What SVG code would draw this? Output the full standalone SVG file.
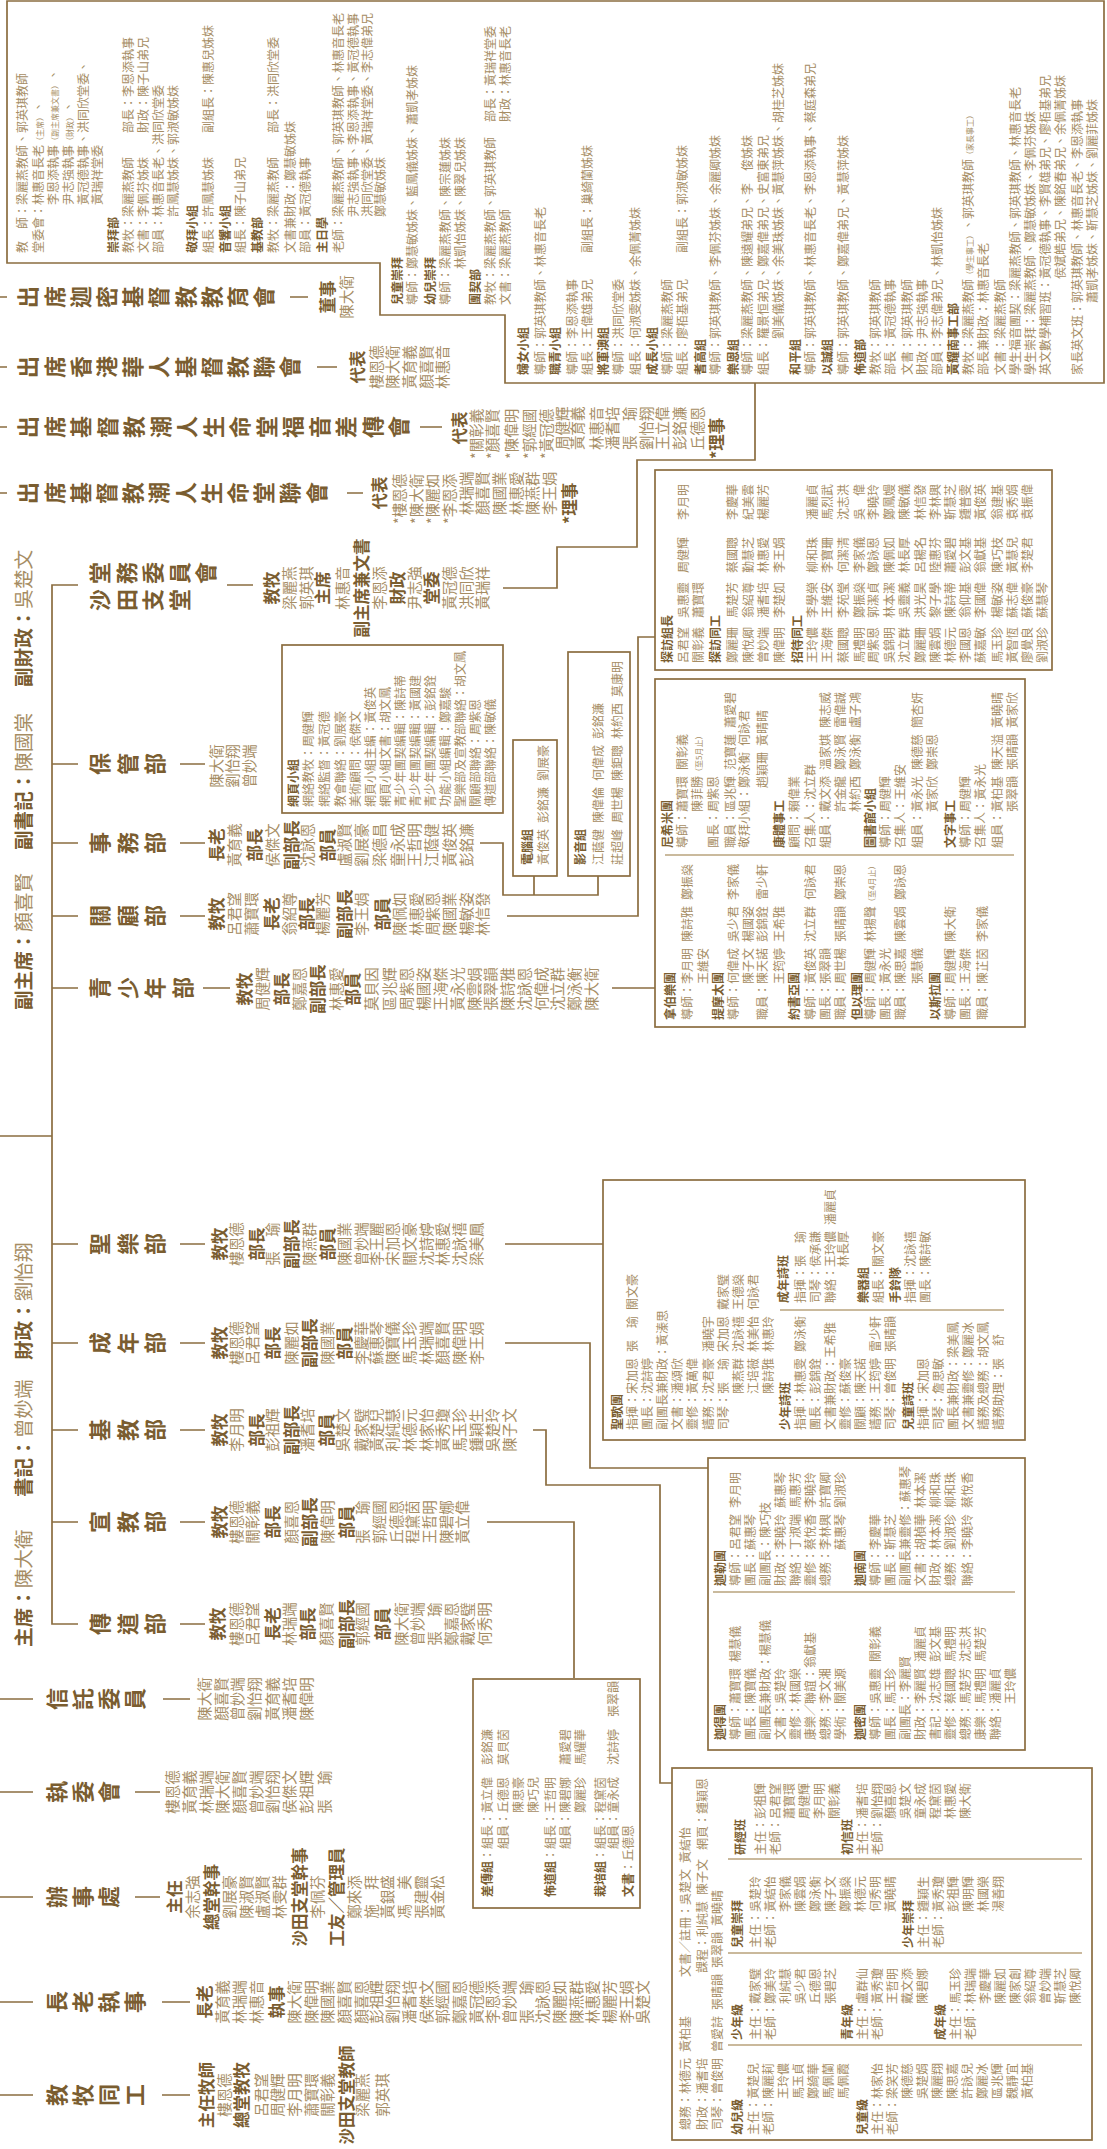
<svg xmlns="http://www.w3.org/2000/svg" width="1107" height="2149" viewBox="0 0 1107 2149">
<style>
text{font-family:"Noto Sans CJK TC","Noto Sans CJK SC",sans-serif}
.ln{fill:none;stroke:#8b6d40;stroke-width:1.7}
.dv{fill:none;stroke:#b9a37c;stroke-width:1.4}
.v{writing-mode:vertical-rl;text-orientation:upright;font-size:22px;font-weight:700;fill:#7a5d30}
.hl{font-size:19.6px;font-weight:700;fill:#7a5d30}
.hn{font-size:19.6px;font-weight:400;fill:#a68d64}
.r{font-size:16.5px;font-weight:700;fill:#7a5d30;text-anchor:middle}
.n{font-size:14.5px;fill:#a68d64;text-anchor:middle}
.rs{font-size:16.5px;font-weight:700;fill:#7a5d30}
.ns{font-size:14.5px;fill:#a68d64}
.t{font-size:12px;fill:#a68d64}
.b{font-size:12px;font-weight:700;fill:#7a5d30}
.s{font-size:8px}
</style>
<rect width="1107" height="2149" fill="#fff"/>
<g transform="translate(0,2149) rotate(-90)">

<g id="headline">
<text x="502" y="31"><tspan class="hl">主席：</tspan><tspan class="hn">陳大衛</tspan></text>
<text x="652" y="31"><tspan class="hl">書記：</tspan><tspan class="hn">曾妙端</tspan></text>
<text x="789" y="31"><tspan class="hl">財政：</tspan><tspan class="hn">劉怡翔</tspan></text>
<text x="1139" y="31"><tspan class="hl">副主席：</tspan><tspan class="hn">顏喜賢</tspan></text>
<text x="1299" y="31"><tspan class="hl">副書記：</tspan><tspan class="hn">陳國棠</tspan></text>
<text x="1462" y="31"><tspan class="hl">副財政：</tspan><tspan class="hn">吳楚文</tspan></text>
</g>

<g id="connectors" class="ln">
<path d="M1564,78V52H525V78"/>
<path d="M1385,52V78M1306,52V78M1233,52V78M1161,52V78M905,52V78M806,52V78M719,52V78M627,52V78M1013,0V52"/>
<path d="M1564,227V253M1385,180V205M1306,180V205M1233,180V205M1161,203V230M905,180V205M806,180V205M719,180V205M627,180V205M525,180V205"/>
<path d="M1852,0V7M1852,290V308M1782,0V7M1782,317V337M1722,0V7M1722,420V442M1656,0V7M1656,347V363"/>
<path d="M450,0V33M450,163V190M357,0V33M357,135V160M252,0V33M252,135V160M147,0V33M147,162V190M54,0V33M54,162V190"/>
<path d="M1561,503V557H1602V637H1689V755H1766"/>
<path d="M1306,480V503H1254V598H1273M1254,534H1273"/>
<path d="M1233,507V638H1512V655"/>
<path d="M1161,612V655"/>
<path d="M905,505V603"/>
<path d="M806,505V590H681V708"/>
<path d="M719,533V546H664V660H366V672"/>
<path d="M627,487V574H471"/>
</g>

<g id="n-chuxi1">
<text class="v" x="1852" y="17" style="letter-spacing:4.2px">出席迦密基督教教育會</text>
<text class="r" x="1852" y="334">董事</text>
<text class="n" x="1852" y="352">陳大衛</text>
</g>
<g id="n-chuxi2">
<text class="v" x="1782" y="17" style="letter-spacing:4.2px">出席香港華人基督教聯會</text>
<text class="r" x="1782" y="364">代表</text>
<text class="n" x="1782" y="382">樓恩德</text>
<text class="n" x="1782" y="398">陳大衛</text>
<text class="n" x="1782" y="415">黃育義</text>
<text class="n" x="1782" y="432">顏喜賢</text>
<text class="n" x="1782" y="448">林惠音</text>
</g>
<g id="n-chuxi3">
<text class="v" x="1722" y="17" style="letter-spacing:4.5px">出席基督教潮人生命堂福音差傳會</text>
<text class="r" x="1721" y="466">代表</text>
<text class="ns" x="1690" y="482">*關彰義</text>
<text class="ns" x="1690" y="498">*顏喜賢</text>
<text class="ns" x="1690" y="517">*陳偉明</text>
<text class="ns" x="1690" y="535">*郭經國</text>
<text class="ns" x="1690" y="552">*黃冠德</text>
<text class="ns" x="1699" y="568">周健輝</text>
<text class="ns" x="1699" y="583">黃育義</text>
<text class="ns" x="1699" y="602">林惠音</text>
<text class="ns" x="1699" y="618">潘耆培</text>
<text class="ns" x="1699" y="635">張　瑜</text>
<text class="ns" x="1699" y="652">劉怡翔</text>
<text class="ns" x="1699" y="668">王立偉</text>
<text class="ns" x="1699" y="685">彭銘濂</text>
<text class="ns" x="1699" y="703">丘德恩</text>
<text class="rs" x="1690" y="723">*理事</text>
</g>
<g id="n-chuxi4">
<text class="v" x="1656" y="17" style="letter-spacing:4.2px">出席基督教潮人生命堂聯會</text>
<text class="r" x="1656" y="386">代表</text>
<text class="ns" x="1625" y="405">*樓恩德</text>
<text class="ns" x="1625" y="422">*陳大衛</text>
<text class="ns" x="1625" y="438">*陳麗如</text>
<text class="ns" x="1625" y="455">*李恩添</text>
<text class="ns" x="1634" y="472">林瑞端</text>
<text class="ns" x="1634" y="488">顏喜賢</text>
<text class="ns" x="1634" y="505">陳國業</text>
<text class="ns" x="1634" y="522">林惠愛</text>
<text class="ns" x="1634" y="538">陳燕群</text>
<text class="ns" x="1634" y="555">李王娟</text>
<text class="rs" x="1625" y="576">*理事</text>
</g>

<g id="n-shatin-box">
<path class="ln" d="M1886,7H2148V1104H1766V505H1834V380H1886Z"/>
<text class="t" x="1896" y="26.5">教　師：梁麗燕教師、郭英琪教師</text>
<text class="t" x="1896" y="42.5">堂委會：林惠音長老<tspan class="s">（主席）</tspan>、</text>
<text class="t" x="1944" y="57.5">李恩添執事<tspan class="s">（副主席兼文書）</tspan>、</text>
<text class="t" x="1944" y="72.5">尹志強執事<tspan class="s">（財政）</tspan>、</text>
<text class="t" x="1944" y="87.5">黃冠德執事、洪同欣堂委、</text>
<text class="t" x="1944" y="101.5">黃瑞祥堂委</text>
<text class="b" x="1896" y="117.5">崇拜部</text>
<text class="t" x="1896" y="132.5">教牧：梁麗燕教師</text><text class="t" x="2016" y="132.5">部長：李恩添執事</text>
<text class="t" x="1896" y="147.5">文書：李佩芬姊妹</text><text class="t" x="2016" y="147.5">財政：陳子山弟兄</text>
<text class="t" x="1896" y="162.5">部員：林惠音長老、洪同欣堂委</text>
<text class="t" x="1932" y="177.5">許鳳慧姊妹、郭淑敏姊妹</text>
<text class="b" x="1896" y="196.5">敬拜小組</text>
<text class="t" x="1896" y="212.5">組長：許鳳慧姊妹</text><text class="t" x="2016" y="212.5">副組長：陳惠兒姊妹</text>
<text class="b" x="1896" y="229.5">音響小組</text>
<text class="t" x="1896" y="244.5">組長：陳子山弟兄</text>
<text class="b" x="1896" y="261.5">基教部</text>
<text class="t" x="1896" y="277.5">教牧：梁麗燕教師</text><text class="t" x="2016" y="277.5">部長：洪同欣堂委</text>
<text class="t" x="1896" y="294.5">文書兼財政：鄭慧敏姊妹</text>
<text class="t" x="1896" y="309.5">部員：黃冠德執事</text>
<text class="b" x="1896" y="326.5">主日學</text>
<text class="t" x="1896" y="342.5">老師：梁麗燕教師、郭英琪教師、林惠音長老</text>
<text class="t" x="1932" y="357.5">尹志強執事、李恩添執事、黃冠德執事</text>
<text class="t" x="1932" y="371.5">洪同欣堂委、黃瑞祥堂委、李志偉弟兄</text>
<text class="t" x="1932" y="385">鄭慧敏姊妹</text>
<text class="b" x="1844" y="401.5">兒童崇拜</text>
<text class="t" x="1844" y="416.5">導師：鄭慧敏姊妹、藍鳳儀姊妹、蕭凱孝姊妹</text>
<text class="b" x="1844" y="434.5">幼兒崇拜</text>
<text class="t" x="1844" y="449.5">導師：梁麗燕教師、陳宗蓮姊妹</text>
<text class="t" x="1880" y="464.5">林凱怡姊妹、陳翠兒姊妹</text>
<text class="b" x="1844" y="479.5">團契部</text>
<text class="t" x="1844" y="494.5">教牧：梁麗燕教師、郭英琪教師</text><text class="t" x="2027" y="494.5">部長：黃瑞祥堂委</text>
<text class="t" x="1844" y="509.5">文書：梁麗燕教師</text><text class="t" x="2027" y="509.5">財政：林惠音長老</text>
<text class="b" x="1774" y="527.5">婦女小組</text>
<text class="t" x="1774" y="544.5">導師：郭英琪教師、林惠音長老</text>
<text class="b" x="1774" y="559.5">職青小組</text>
<text class="t" x="1774" y="576.5">導師：李恩添執事</text>
<text class="t" x="1774" y="591.5">組長：王偉雄弟兄</text><text class="t" x="1896" y="591.5">副組長：巢綺蘭姊妹</text>
<text class="b" x="1774" y="607.5">將軍澳組</text>
<text class="t" x="1774" y="622.5">導師：洪同欣堂委</text>
<text class="t" x="1774" y="639.5">組長：何淑雯姊妹、余佩菁姊妹</text>
<text class="b" x="1774" y="656.5">成長小組</text>
<text class="t" x="1774" y="671.5">導師：梁麗燕教師</text>
<text class="t" x="1774" y="686.5">組長：廖栢基弟兄</text><text class="t" x="1896" y="686.5">副組長：郭淑敏姊妹</text>
<text class="b" x="1774" y="704.5">耆高組</text>
<text class="t" x="1774" y="719.5">導師：郭英琪教師、李佩芬姊妹、余麗卿姊妹</text>
<text class="b" x="1774" y="737.5">樂恩組</text>
<text class="t" x="1774" y="751.5">導師：梁麗燕教師、陳遠耀弟兄、李　俊姊妹</text>
<text class="t" x="1774" y="767.5">組長：羅景恒弟兄、鄭嘉偉弟兄、史富東弟兄</text>
<text class="t" x="1810" y="782.5">劉美儀姊妹、余美珠姊妹、黃慧萍姊妹、胡桂芝姊妹</text>
<text class="b" x="1774" y="799.5">和平組</text>
<text class="t" x="1774" y="814.5">導師：郭英琪教師、林惠音長老、李恩添執事、蔡庭森弟兄</text>
<text class="b" x="1774" y="831.5">以誠組</text>
<text class="t" x="1774" y="847.5">導師：郭英琪教師、鄭嘉偉弟兄、黃慧萍姊妹</text>
<text class="b" x="1774" y="864.5">佈道部</text>
<text class="t" x="1774" y="879.5">教牧：郭英琪教師</text>
<text class="t" x="1774" y="894.5">部長：黃冠德執事</text>
<text class="t" x="1774" y="911.5">文書：郭英琪教師</text>
<text class="t" x="1774" y="926.5">財政：尹志強執事</text>
<text class="t" x="1774" y="941.5">部員：李志偉弟兄、林凱怡姊妹</text>
<text class="b" x="1774" y="957.5">黃耀南事工部</text>
<text class="t" x="1774" y="972.5">教牧：梁麗燕教師<tspan class="s">（學生事工）</tspan>、郭英琪教師<tspan class="s">（家長事工）</tspan></text>
<text class="t" x="1774" y="987.5">部長兼財政：林惠音長老</text>
<text class="t" x="1774" y="1004.5">文書：梁麗燕教師</text>
<text class="t" x="1774" y="1019.5">學生福音團契：梁麗燕教師、郭英琪教師、林惠音長老</text>
<text class="t" x="1774" y="1034.5">學生崇拜：梁麗燕教師、鄭慧敏姊妹、李佩芬姊妹</text>
<text class="t" x="1774" y="1049.5">英文數學補習班：黃冠德執事、李賢雄弟兄、廖栢基弟兄</text>
<text class="t" x="1870" y="1064.5">侯斌皓弟兄、陳銘春弟兄、余佩菁姊妹</text>
<text class="t" x="1774" y="1081.5">家長英文班：郭英琪教師、林惠音長老、李恩添執事</text>
<text class="t" x="1846" y="1096.5">蕭凱孝姊妹、靳慧芝姊妹、劉麗菲姊妹</text>
</g>

<g id="n-shatin">
<text class="v" x="1549" y="89" style="letter-spacing:4.5px">沙田支堂</text>
<text class="v" x="1576" y="89" style="letter-spacing:4.5px">堂務委員會</text>
<text class="r" x="1561" y="278">教牧</text>
<text class="n" x="1561" y="295">梁麗燕</text>
<text class="n" x="1561" y="312">郭英琪</text>
<text class="r" x="1561" y="329">主席</text>
<text class="n" x="1561" y="348">林惠音</text>
<text class="r" x="1561" y="368">副主席兼文書</text>
<text class="n" x="1561" y="385">李恩添</text>
<text class="r" x="1561" y="404">財政</text>
<text class="n" x="1561" y="420">尹志強</text>
<text class="r" x="1561" y="438">堂委</text>
<text class="n" x="1561" y="455">黃冠德</text>
<text class="n" x="1561" y="472">洪同欣</text>
<text class="n" x="1561" y="488">黃瑞祥</text>
</g>

<g id="n-baoguan">
<text class="v" x="1385" y="89" style="letter-spacing:5.5px">保管部</text>
<text class="n" x="1383" y="222">陳大衛</text>
<text class="n" x="1383" y="238">劉怡翔</text>
<text class="n" x="1383" y="255">曾妙端</text>
</g>

<g id="n-web">
<rect class="ln" x="1336" y="282" width="168" height="221"/>
<text class="b" x="1342" y="297.5">網頁小組</text>
<text class="t" x="1342" y="312.5">網絡教牧：周健輝</text>
<text class="t" x="1342" y="328.5">網絡監督：黃冠德</text>
<text class="t" x="1342" y="344.5">教會聯絡：劉展豪</text>
<text class="t" x="1342" y="359.5">美術顧問：侯傑文</text>
<text class="t" x="1342" y="374.5">網頁小組主編：黃俊英</text>
<text class="t" x="1342" y="389.5">網頁小組文書：胡文鳳</text>
<text class="t" x="1342" y="404.5">青少年團契編輯：陳詩蒂</text>
<text class="t" x="1342" y="419.5">青少年團契編輯：黃國建</text>
<text class="t" x="1342" y="434.5">青少年團契編輯：彭銘銓</text>
<text class="t" x="1342" y="449.5">功能小組編輯：鄭嘉駿</text>
<text class="t" x="1342" y="464.5">聖樂部及宣教部聯絡：胡文鳳</text>
<text class="t" x="1342" y="479.5">關顧部聯絡：周紫恩</text>
<text class="t" x="1342" y="494.5">傳道部聯絡：陳敏儀</text>
</g>

<g id="n-shiwu">
<text class="v" x="1306" y="89" style="letter-spacing:5.5px">事務部</text>
<text class="r" x="1304" y="223">長老</text>
<text class="n" x="1304" y="240">黃育義</text>
<text class="r" x="1304" y="261">部長</text>
<text class="n" x="1304" y="278">侯傑文</text>
<text class="r" x="1304" y="298">副部長</text>
<text class="n" x="1304" y="313">沈詠恩</text>
<text class="r" x="1304" y="334">部員</text>
<text class="n" x="1304" y="350">盧淑賢</text>
<text class="n" x="1304" y="367">劉展豪</text>
<text class="n" x="1304" y="385">梁德昌</text>
<text class="n" x="1304" y="403">童永成</text>
<text class="n" x="1304" y="420">王哲明</text>
<text class="n" x="1304" y="437">江蔭健</text>
<text class="n" x="1304" y="455">黃俊英</text>
<text class="n" x="1304" y="472">彭銘濂</text>
</g>
<g id="n-computer">
<rect class="ln" x="1273" y="513" width="136" height="44"/>
<text class="b" x="1284" y="531.5">電腦組</text>
<text class="t" x="1284" y="547.5">黃俊英&#x2002;彭銘濂&#x2002;劉展豪</text>
</g>
<g id="n-av">
<rect class="ln" x="1273" y="568" width="224" height="62"/>
<text class="b" x="1284" y="584.5">影音組</text>
<text class="t" x="1284" y="602.5">江蔭健&#x2002;陳偉倫&#x2002;何偉成&#x2002;彭銘濂</text>
<text class="t" x="1284" y="621.5">莊超峰&#x2002;周世楊&#x2002;陳鉅聰&#x2002;林約西&#x2002;莫康明</text>
</g>

<g id="n-guangu">
<text class="v" x="1233" y="89" style="letter-spacing:5.5px">關顧部</text>
<text class="r" x="1235" y="223">教牧</text>
<text class="n" x="1235" y="240">呂君望</text>
<text class="n" x="1235" y="257">蕭寶環</text>
<text class="r" x="1235" y="278">長老</text>
<text class="n" x="1235" y="295">翁紹尊</text>
<text class="r" x="1235" y="313">部長</text>
<text class="n" x="1235" y="328">楊麗芳</text>
<text class="r" x="1235" y="351">副部長</text>
<text class="n" x="1235" y="367">李王娟</text>
<text class="r" x="1235" y="389">部員</text>
<text class="n" x="1235" y="405">陳佩如</text>
<text class="n" x="1235" y="422">林惠愛</text>
<text class="n" x="1235" y="438">周紫恩</text>
<text class="n" x="1235" y="455">陳國業</text>
<text class="n" x="1235" y="472">楊敏姿</text>
<text class="n" x="1235" y="488">林信發</text>
</g>
<g id="n-visit">
<rect class="ln" x="1479" y="655" width="200" height="397"/>
<text class="b" x="1486" y="671.5">探訪組長</text>
<text class="t" y="687.5"><tspan x="1486">呂君望</tspan> <tspan x="1531">吳惠靈</tspan> <tspan x="1576">周健輝</tspan> <tspan x="1629">李月明</tspan></text>
<text class="t" y="702.5"><tspan x="1486">關彰義</tspan> <tspan x="1531">蕭寶環</tspan></text>
<text class="b" x="1486" y="719.5">探訪同工</text>
<text class="t" y="736.5"><tspan x="1486">鄭麗珊</tspan> <tspan x="1531">馬楚芳</tspan> <tspan x="1576">蔡國聰</tspan> <tspan x="1629">李慶華</tspan></text>
<text class="t" y="752.5"><tspan x="1486">陳悅卿</tspan> <tspan x="1531">翁紹尊</tspan> <tspan x="1576">勤慧芝</tspan> <tspan x="1629">紀美雲</tspan></text>
<text class="t" y="767.5"><tspan x="1486">曾妙端</tspan> <tspan x="1531">潘耆培</tspan> <tspan x="1576">林惠愛</tspan> <tspan x="1629">楊麗芳</tspan></text>
<text class="t" y="783.5"><tspan x="1486">陳偉明</tspan> <tspan x="1531">李楚如</tspan> <tspan x="1576">李王娟</tspan></text>
<text class="b" x="1486" y="801.5">招待同工</text>
<text class="t" y="816.5"><tspan x="1486">王玲儂</tspan> <tspan x="1531">李學榮</tspan> <tspan x="1576">柳和珠</tspan> <tspan x="1629">潘麗貞</tspan></text>
<text class="t" y="831.5"><tspan x="1486">王海傑</tspan> <tspan x="1531">王維安</tspan> <tspan x="1576">李寶珊</tspan> <tspan x="1629">馬烈武</tspan></text>
<text class="t" y="847.5"><tspan x="1486">蔡國聰</tspan> <tspan x="1531">李苑瑩</tspan> <tspan x="1576">何潔清</tspan> <tspan x="1629">沈志洪</tspan></text>
<text class="t" y="863.5"><tspan x="1486">馬禮明</tspan> <tspan x="1531">鄭振燊</tspan> <tspan x="1576">李家儀</tspan> <tspan x="1629">吳　偉</tspan></text>
<text class="t" y="877.5"><tspan x="1486">周紫恩</tspan> <tspan x="1531">郭潔貞</tspan> <tspan x="1576">鄭詠恩</tspan> <tspan x="1629">李曉玲</tspan></text>
<text class="t" y="893.5"><tspan x="1486">吳錦明</tspan> <tspan x="1531">林本潔</tspan> <tspan x="1576">陳佩如</tspan> <tspan x="1629">鄭鳳嫚</tspan></text>
<text class="t" y="908.5"><tspan x="1486">沈立群</tspan> <tspan x="1531">吳靈義</tspan> <tspan x="1576">林長厚</tspan> <tspan x="1629">陳敏儀</tspan></text>
<text class="t" y="924.5"><tspan x="1486">鄭麗珊</tspan> <tspan x="1531">洪光昊</tspan> <tspan x="1576">呂楊名</tspan> <tspan x="1629">林信發</tspan></text>
<text class="t" y="939.5"><tspan x="1486">陳雲娟</tspan> <tspan x="1531">黎子學</tspan> <tspan x="1576">陸惠芬</tspan> <tspan x="1629">李林興</tspan></text>
<text class="t" y="954.5"><tspan x="1486">林德元</tspan> <tspan x="1531">陳詩蒂</tspan> <tspan x="1576">蕭愛碧</tspan> <tspan x="1629">靳慧芝</tspan></text>
<text class="t" y="969.5"><tspan x="1486">李國恩</tspan> <tspan x="1531">翁仰基</tspan> <tspan x="1576">彭文基</tspan> <tspan x="1629">鍾普雯</tspan></text>
<text class="t" y="984.5"><tspan x="1486">蘇嘉敏</tspan> <tspan x="1531">李國偉</tspan> <tspan x="1576">翁獻基</tspan> <tspan x="1629">黃俊英</tspan></text>
<text class="t" y="1001.5"><tspan x="1486">馬玉珍</tspan> <tspan x="1531">楊敏姿</tspan> <tspan x="1576">陳巧枝</tspan> <tspan x="1629">翁建基</tspan></text>
<text class="t" y="1016.5"><tspan x="1486">黃智恆</tspan> <tspan x="1531">蘇志偉</tspan> <tspan x="1576">黃慧兒</tspan> <tspan x="1629">袁秀娟</tspan></text>
<text class="t" y="1031.5"><tspan x="1486">廖覺良</tspan> <tspan x="1531">蘇俊豪</tspan> <tspan x="1576">李楚君</tspan> <tspan x="1629">袁振偉</tspan></text>
<text class="t" y="1046.5"><tspan x="1486">劉淑珍</tspan> <tspan x="1531">蘇慧琴</tspan></text>
</g>

<g id="n-youth">
<text class="v" x="1161" y="89" style="letter-spacing:5.5px">青少年部</text>
<text class="r" x="1160" y="251">教牧</text>
<text class="n" x="1160" y="268">周健輝</text>
<text class="r" x="1160" y="288">部長</text>
<text class="n" x="1160" y="305">鄭嘉恩</text>
<text class="r" x="1160" y="324">副部長</text>
<text class="n" x="1160" y="342">林惠愛</text>
<text class="r" x="1160" y="359">部員</text>
<text class="n" x="1160" y="377">莫貝因</text>
<text class="n" x="1160" y="395">區兆輝</text>
<text class="n" x="1160" y="412">周紫恩</text>
<text class="n" x="1160" y="429">楊國姿</text>
<text class="n" x="1160" y="446">王海傑</text>
<text class="n" x="1160" y="463">黃永光</text>
<text class="n" x="1160" y="480">陳雲娟</text>
<text class="n" x="1160" y="496">張翠韻</text>
<text class="n" x="1160" y="513">陳詩雅</text>
<text class="n" x="1160" y="530">沈詠恩</text>
<text class="n" x="1160" y="547">何偉成</text>
<text class="n" x="1160" y="563">沈立群</text>
<text class="n" x="1160" y="580">鄭泳衡</text>
<text class="n" x="1160" y="597">陳大衛</text>
</g>
<g id="n-youth-box">
<rect class="ln" x="1122" y="655" width="348" height="370"/>
<path class="dv" d="M1294,665V1014"/>
<text class="b" x="1129" y="674.5">拿伯樂團</text>
<text class="t" x="1129" y="691.5">導師：李月明&#x2002;陳詩雅&#x2002;鄭振燊</text>
<text class="t" x="1165" y="707.5">王維安</text>
<text class="b" x="1129" y="722.5">提摩太團</text>
<text class="t" x="1129" y="737.5">導師：何偉成&#x2002;吳少君&#x2002;李家儀</text>
<text class="t" x="1165" y="752.5">陳子文&#x2002;楊國姿</text>
<text class="t" x="1129" y="766.5">職員：陳天諾&#x2002;彭錦銓&#x2002;雷少軒</text>
<text class="t" x="1165" y="783.5">王筠婷&#x2002;王希雅</text>
<text class="b" x="1129" y="798.5">約書亞團</text>
<text class="t" x="1129" y="814.5">導師：黃俊英&#x2002;沈立群&#x2002;何詠君</text>
<text class="t" x="1129" y="829.5">團長：張翠韻</text>
<text class="t" x="1129" y="844.5">職員：周世楊&#x2002;張晴韻&#x2002;鄭崇恩</text>
<text class="b" x="1129" y="861.5">但以理團</text>
<text class="t" x="1129" y="874.5">導師：周健輝&#x2002;林揚聲<tspan class="s">（至4月止）</tspan></text>
<text class="t" x="1129" y="889.5">團長：黃永光</text>
<text class="t" x="1129" y="904.5">職員：陳思嘉&#x2002;陳雲娟&#x2002;鄭詠恩</text>
<text class="t" x="1165" y="921.5">張慧儀</text>
<text class="b" x="1129" y="939.5">以斯拉團</text>
<text class="t" x="1129" y="954.5">導師：周健輝&#x2002;陳大衛</text>
<text class="t" x="1129" y="969.5">團長：王海傑</text>
<text class="t" x="1129" y="986.5">職員：陳芷茵&#x2002;李家儀</text>
<text class="b" x="1301" y="671.5">尼希米團</text>
<text class="t" x="1301" y="686.5">導師：蕭寶環&#x2002;關彰義</text>
<text class="t" x="1337" y="701.5">陳菲勝<tspan class="s">（至5月止）</tspan></text>
<text class="t" x="1301" y="717.5">團長：周紫恩</text>
<text class="t" x="1301" y="734.5">職員：區兆輝&#x2002;范寶蓮&#x2002;蕭愛碧</text>
<text class="t" x="1301" y="748.5">敬拜小組：鄭泳衡&#x2002;何詠君</text>
<text class="t" x="1361" y="766.5">趙穎珊&#x2002;黃晴晴</text>
<text class="b" x="1301" y="783.5">康體事工</text>
<text class="t" x="1301" y="798.5">顧問：賴偉業</text>
<text class="t" x="1301" y="814.5">召集人：沈立群</text>
<text class="t" x="1301" y="829.5">組員：戴文添&#x2002;溫家娸&#x2002;陳志威</text>
<text class="t" x="1337" y="844.5">許金龍&#x2002;鄭泳賢&#x2002;雷偉誠</text>
<text class="t" x="1337" y="859.5">林約西&#x2002;鄭泳衡&#x2002;盧子鴻</text>
<text class="b" x="1301" y="874.5">圖書館小組</text>
<text class="t" x="1301" y="889.5">導師：周健輝</text>
<text class="t" x="1301" y="904.5">召集人：王維安</text>
<text class="t" x="1301" y="921.5">組員：黃永光&#x2002;陳德慈&#x2002;簡杏妍</text>
<text class="t" x="1337" y="936.5">黃家欣&#x2002;鄭崇恩</text>
<text class="b" x="1301" y="954.5">文字事工</text>
<text class="t" x="1301" y="969.5">導師：周健輝</text>
<text class="t" x="1301" y="984.5">召集人：黃永光</text>
<text class="t" x="1301" y="1001.5">組員：黃柏基&#x2002;陳天溢&#x2002;黃曉晴</text>
<text class="t" x="1337" y="1016.5">張翠韻&#x2002;張晴韻&#x2002;黃家欣</text>
</g>

<g id="n-music">
<text class="v" x="905" y="89" style="letter-spacing:5.5px">聖樂部</text>
<text class="r" x="905" y="226">教牧</text>
<text class="n" x="905" y="242">樓恩德</text>
<text class="r" x="905" y="263">部長</text>
<text class="n" x="905" y="278">張　瑜</text>
<text class="r" x="905" y="298">副部長</text>
<text class="n" x="905" y="315">陳燕群</text>
<text class="r" x="905" y="334">部員</text>
<text class="n" x="905" y="350">陳國業</text>
<text class="n" x="905" y="367">曾妙端</text>
<text class="n" x="905" y="382">李王麗</text>
<text class="n" x="905" y="398">宋加恩</text>
<text class="n" x="905" y="415">關文豪</text>
<text class="n" x="905" y="432">沈詩婷</text>
<text class="n" x="905" y="448">林惠愛</text>
<text class="n" x="905" y="465">沈詠禧</text>
<text class="n" x="905" y="482">梁美鳳</text>
</g>
<g id="n-music-box">
<rect class="ln" x="709" y="603" width="260" height="422"/>
<path class="dv" d="M839,780V1004"/>
<text class="b" x="719" y="621.5">聖歌團</text>
<text class="t" x="719" y="636.5">指揮：宋加恩&#x2002;張　瑜&#x2002;關文豪</text>
<text class="t" x="719" y="651.5">團長：沈詩婷</text>
<text class="t" x="719" y="666.5">副團長兼財政：黃溱思</text>
<text class="t" x="719" y="681.5">文書：潘頌欣</text>
<text class="t" x="719" y="696.5">靈修：黃萬偉</text>
<text class="t" x="719" y="712.5">譜務：沈君豪&#x2002;潘曉宇</text>
<text class="t" x="719" y="727.5">司琴：張　瑜&#x2002;宋加恩&#x2002;戴家璧</text>
<text class="t" x="755" y="742.5">陳燕群&#x2002;沈詠禧&#x2002;王德燊</text>
<text class="t" x="755" y="757.5">江培薇&#x2002;林美怡&#x2002;何詠君</text>
<text class="t" x="755" y="772.5">陳詩雅&#x2002;林惠玲</text>
<text class="b" x="719" y="789.5">少年詩班</text>
<text class="t" x="719" y="804.5">指揮：林惠雯&#x2002;鄭泳衡</text>
<text class="t" x="719" y="819.5">團長：彭錦銓</text>
<text class="t" x="719" y="834.5">文書兼財政：王希雅</text>
<text class="t" x="719" y="849.5">靈修：蘇俊豪</text>
<text class="t" x="719" y="864.5">關顧：陳天諾</text>
<text class="t" x="719" y="879.5">譜務：王筠婷&#x2002;雷少軒</text>
<text class="t" x="719" y="894.5">司琴：曾俊明&#x2002;張晴韻</text>
<text class="b" x="719" y="912.5">兒童詩班</text>
<text class="t" x="719" y="927.5">指揮：宋加恩</text>
<text class="t" x="719" y="942.5">司琴：詹思敏</text>
<text class="t" x="719" y="957.5">團長兼財政：梁美鳳</text>
<text class="t" x="719" y="972.5">文書兼靈修：鄭麗冰</text>
<text class="t" x="719" y="987.5">譜務及總務：胡文鳳</text>
<text class="t" x="719" y="1002.5">譜務助理：張　舒</text>
<text class="b" x="846" y="787.5">成年詩班</text>
<text class="t" x="846" y="804.5">指揮：張　瑜</text>
<text class="t" x="846" y="819.5">司琴：侯承謙</text>
<text class="t" x="846" y="834.5">聯絡：王玲儂&#x2002;潘麗貞</text>
<text class="t" x="882" y="847.5">林長厚</text>
<text class="b" x="846" y="867.5">樂器組</text>
<text class="t" x="846" y="882.5">組長：關文豪</text>
<text class="b" x="846" y="899.5">手鈴隊</text>
<text class="t" x="846" y="914.5">指揮：沈詠禧</text>
<text class="t" x="846" y="929.5">團長：陳詩敏</text>
</g>

<g id="n-adult">
<text class="v" x="806" y="89" style="letter-spacing:5.5px">成年部</text>
<text class="r" x="806" y="226">教牧</text>
<text class="n" x="806" y="242">樓恩德</text>
<text class="n" x="806" y="258">呂君望</text>
<text class="r" x="806" y="279">部長</text>
<text class="n" x="806" y="297">陳麗如</text>
<text class="r" x="806" y="316">副部長</text>
<text class="n" x="806" y="333">陳國業</text>
<text class="r" x="806" y="351">部員</text>
<text class="n" x="806" y="367">李慶華</text>
<text class="n" x="806" y="382">蘇惠琴</text>
<text class="n" x="806" y="398">陳寶儀</text>
<text class="n" x="806" y="415">馬玉珍</text>
<text class="n" x="806" y="432">林瑞端</text>
<text class="n" x="806" y="448">顏喜賢</text>
<text class="n" x="806" y="465">陳偉明</text>
<text class="n" x="806" y="482">李王娟</text>
</g>
<g id="n-adult-box">
<rect class="ln" x="399" y="708" width="292" height="317"/>
<path class="dv" d="M557,713V1015"/>
<text class="b" x="563" y="724.5">迦勒團</text>
<text class="t" x="563" y="739.5">導師：呂君望&#x2002;李月明</text>
<text class="t" x="563" y="754.5">團長：蘇惠琴</text>
<text class="t" x="563" y="769.5">副團長：陳巧枝</text>
<text class="t" x="563" y="784.5">財政：李曉玲&#x2002;蘇惠琴</text>
<text class="t" x="563" y="799.5">聯絡：丁淑端&#x2002;馬惠芳</text>
<text class="t" x="563" y="814.5">靈修：蔡悅香&#x2002;李曉玲</text>
<text class="t" x="563" y="829.5">總務：李林興&#x2002;許寶卿</text>
<text class="t" x="599" y="844.5">蘇惠琴&#x2002;劉淑珍</text>
<text class="b" x="563" y="864.5">迦南團</text>
<text class="t" x="563" y="879.5">導師：李慶華</text>
<text class="t" x="563" y="894.5">團長：靳慧芝</text>
<text class="t" x="563" y="909.5">副團長兼靈修：蘇惠琴</text>
<text class="t" x="563" y="924.5">文書：胡楨華&#x2002;林本潔</text>
<text class="t" x="563" y="939.5">財政：林本潔&#x2002;柳和珠</text>
<text class="t" x="563" y="954.5">總務：劉淑珍&#x2002;柳和珠</text>
<text class="t" x="563" y="971.5">聯絡：李曉玲&#x2002;蔡悅香</text>
<text class="b" x="409" y="724.5">迦得團</text>
<text class="t" x="409" y="739.5">導師：蕭寶環&#x2002;楊慧儀</text>
<text class="t" x="409" y="754.5">團長：陳寶儀</text>
<text class="t" x="409" y="769.5">副團長兼財政：楊慧儀</text>
<text class="t" x="409" y="784.5">文書：吳楚玲</text>
<text class="t" x="409" y="799.5">靈修：林國榮</text>
<text class="t" x="409" y="814.5">康樂／聯誼：翁獻基</text>
<text class="t" x="409" y="829.5">總務：李文湘</text>
<text class="t" x="409" y="844.5">學術：關美源</text>
<text class="b" x="409" y="864.5">迦密團</text>
<text class="t" x="409" y="879.5">導師：吳惠靈&#x2002;關彰義</text>
<text class="t" x="409" y="894.5">團長：馬玉珍</text>
<text class="t" x="409" y="909.5">副團長：李麗賢</text>
<text class="t" x="409" y="924.5">財政：李麗賢&#x2002;潘麗貞</text>
<text class="t" x="409" y="939.5">書記：沈志雄&#x2002;彭文基</text>
<text class="t" x="409" y="954.5">靈修：蔡國聰&#x2002;馬禮明</text>
<text class="t" x="409" y="969.5">總務：馬楚芳&#x2002;沈志洪</text>
<text class="t" x="409" y="984.5">康樂：馬禮明&#x2002;馬楚芳</text>
<text class="t" x="409" y="999.5">聯絡：潘麗貞</text>
<text class="t" x="445" y="1014.5">王玲儂</text>
</g>

<g id="n-edu">
<text class="v" x="719" y="89" style="letter-spacing:5.5px">基教部</text>
<text class="r" x="719" y="226">教牧</text>
<text class="n" x="719" y="242">李月明</text>
<text class="r" x="719" y="263">部長</text>
<text class="n" x="719" y="278">彭祖輝</text>
<text class="r" x="719" y="298">副部長</text>
<text class="n" x="719" y="313">潘耆培</text>
<text class="r" x="719" y="333">部員</text>
<text class="n" x="719" y="348">吳楚文</text>
<text class="n" x="719" y="367">戴家璧</text>
<text class="n" x="719" y="382">黃楚兒</text>
<text class="n" x="719" y="398">利純慧</text>
<text class="n" x="719" y="415">林德元</text>
<text class="n" x="719" y="432">林家怡</text>
<text class="n" x="719" y="448">黃秀瓊</text>
<text class="n" x="719" y="465">馬玉珍</text>
<text class="n" x="719" y="482">鍾穎生</text>
<text class="n" x="719" y="498">吳楚玲</text>
<text class="n" x="719" y="515">陳子文</text>
</g>
<g id="n-edu-box">
<rect class="ln" x="9" y="672" width="372" height="420"/>
<path class="dv" d="M290,728V1082M196,728V1082M104,728V1082"/>
<text class="t" x="19" y="689.5">總務：林德元&#x2002;黃柏基</text>
<text class="t" x="172" y="689.5">文書／註冊：吳楚文&#x2002;黃結怡</text>
<text class="t" x="19" y="706.5">財政：潘耆培</text>
<text class="t" x="176" y="706.5">課程：利純慧&#x2002;陳子文</text>
<text class="t" x="299" y="706.5">網頁：鍾穎恩</text>
<text class="t" x="19" y="721.5">司琴：曾俊明&#x2002;曾愛詩&#x2002;張晴韻&#x2002;張翠韻&#x2002;黃曉晴</text>
<text class="b" x="294" y="744.5">研經班</text>
<text class="t" x="294" y="764.5">主任：彭祖輝</text>
<text class="t" x="294" y="779.5">老師：呂君望</text>
<text class="t" x="330" y="793.5">蕭寶環</text>
<text class="t" x="330" y="808.5">周健輝</text>
<text class="t" x="330" y="823.5">李月明</text>
<text class="t" x="330" y="838.5">關彰義</text>
<text class="b" x="294" y="851.5">初信班</text>
<text class="t" x="294" y="866.5">主任：潘耆培</text>
<text class="t" x="294" y="881.5">老師：劉怡翔</text>
<text class="t" x="330" y="894.5">顏喜恩</text>
<text class="t" x="330" y="909.5">吳楚文</text>
<text class="t" x="330" y="924.5">童永成</text>
<text class="t" x="330" y="939.5">程黛茵</text>
<text class="t" x="330" y="954.5">林惠愛</text>
<text class="t" x="330" y="969.5">陳大衛</text>
<text class="b" x="201" y="741.5">兒童崇拜</text>
<text class="t" x="201" y="759.5">主任：吳楚玲</text>
<text class="t" x="201" y="774.5">老師：黃結怡</text>
<text class="t" x="237" y="789.5">李家儀</text>
<text class="t" x="237" y="804.5">陳雲娟</text>
<text class="t" x="237" y="819.5">鄭泳衡</text>
<text class="t" x="237" y="834.5">陳子文</text>
<text class="t" x="237" y="849.5">鄭振燊</text>
<text class="t" x="237" y="864.5">林德元</text>
<text class="t" x="237" y="879.5">何秀明</text>
<text class="t" x="237" y="894.5">黃曉晴</text>
<text class="b" x="201" y="912.5">少年崇拜</text>
<text class="t" x="201" y="927.5">主任：鍾穎生</text>
<text class="t" x="201" y="942.5">老師：黃秀瓊</text>
<text class="t" x="237" y="957.5">彭祖輝</text>
<text class="t" x="237" y="972.5">陳明輝</text>
<text class="t" x="237" y="987.5">林國榮</text>
<text class="t" x="237" y="1002.5">湯善翔</text>
<text class="b" x="109" y="741.5">少年級</text>
<text class="t" x="109" y="759.5">主任：戴家璧</text>
<text class="t" x="109" y="774.5">老師：鄭美玲</text>
<text class="t" x="145" y="789.5">利純慧</text>
<text class="t" x="145" y="804.5">吳少君</text>
<text class="t" x="145" y="819.5">丘德恩</text>
<text class="t" x="145" y="834.5">張碧芝</text>
<text class="b" x="109" y="851.5">青年級</text>
<text class="t" x="109" y="866.5">主任：盧群仙</text>
<text class="t" x="109" y="881.5">老師：黃秀瓊</text>
<text class="t" x="145" y="896.5">王哲明</text>
<text class="t" x="145" y="911.5">戴文添</text>
<text class="t" x="145" y="926.5">陳碧娜</text>
<text class="b" x="109" y="944.5">成年級</text>
<text class="t" x="109" y="959.5">主任：馬玉珍</text>
<text class="t" x="109" y="974.5">老師：林瑞端</text>
<text class="t" x="145" y="989.5">李慶華</text>
<text class="t" x="145" y="1004.5">陳麗如</text>
<text class="t" x="145" y="1019.5">陳家創</text>
<text class="t" x="145" y="1034.5">翁紹尊</text>
<text class="t" x="145" y="1049.5">曾妙端</text>
<text class="t" x="145" y="1064.5">靳慧芝</text>
<text class="t" x="145" y="1079.5">陳悅卿</text>
<text class="b" x="14" y="741.5">幼兒級</text>
<text class="t" x="14" y="757.5">主任：黃楚兒</text>
<text class="t" x="14" y="772.5">老師：陳麗莉</text>
<text class="t" x="50" y="787.5">王玲儂</text>
<text class="t" x="50" y="802.5">馬玉貞</text>
<text class="t" x="50" y="817.5">鄭綺華</text>
<text class="t" x="50" y="832.5">馬佩蘭</text>
<text class="t" x="50" y="847.5">馬佩霞</text>
<text class="b" x="14" y="866.5">兒童級</text>
<text class="t" x="14" y="881.5">主任：林家怡</text>
<text class="t" x="14" y="896.5">老師：梁笑芳</text>
<text class="t" x="50" y="911.5">陳德慈</text>
<text class="t" x="50" y="926.5">吳楚娟</text>
<text class="t" x="50" y="941.5">陳麗翔</text>
<text class="t" x="50" y="956.5">陳思嘉</text>
<text class="t" x="50" y="971.5">許詠兒</text>
<text class="t" x="50" y="986.5">鄭麗冰</text>
<text class="t" x="50" y="1001.5">區兆輝</text>
<text class="t" x="50" y="1016.5">魏靜宜</text>
<text class="t" x="50" y="1031.5">黃柏基</text>
</g>

<g id="n-mission">
<text class="v" x="627" y="89" style="letter-spacing:5.5px">宣教部</text>
<text class="r" x="627" y="226">教牧</text>
<text class="n" x="627" y="242">樓恩德</text>
<text class="n" x="627" y="258">關彰義</text>
<text class="r" x="627" y="279">部長</text>
<text class="n" x="627" y="297">顏喜恩</text>
<text class="r" x="627" y="316">副部長</text>
<text class="n" x="627" y="333">陳偉明</text>
<text class="r" x="627" y="353">部員</text>
<text class="n" x="627" y="368">張　瑜</text>
<text class="n" x="627" y="385">郭經國</text>
<text class="n" x="627" y="402">丘德恩</text>
<text class="n" x="627" y="418">程黛茵</text>
<text class="n" x="627" y="435">王哲明</text>
<text class="n" x="627" y="452">陳碧娜</text>
<text class="n" x="627" y="468">黃立偉</text>
</g>
<g id="n-mission-box">
<rect class="ln" x="241" y="473" width="229" height="167"/>
<text x="252" y="491.5"><tspan class="b">差傳組</tspan><tspan class="t">：組長：黃立偉　彭銘濂</tspan></text>
<text class="t" x="300" y="507.5">組員：丘德恩　莫貝茵</text>
<text class="t" x="336" y="522.5">陳思豪</text>
<text class="t" x="336" y="537.5">陳巧兒</text>
<text x="252" y="554.5"><tspan class="b">佈道組</tspan><tspan class="t">：組長：王哲明</tspan></text>
<text class="t" x="300" y="569.5">組員：陳碧娜　蕭愛碧</text>
<text class="t" x="336" y="584.5">鄭麗珍　馬耀華</text>
<text x="252" y="604.5"><tspan class="b">栽培組</tspan><tspan class="t">：組長：程黛茵</tspan></text>
<text class="t" x="300" y="617.5">組員：童永成　沈詩婷　張翠韻</text>
<text x="252" y="632.5"><tspan class="b">文書</tspan><tspan class="t">：丘德恩</tspan></text>
</g>

<g id="n-preach">
<text class="v" x="525" y="89" style="letter-spacing:5.5px">傳道部</text>
<text class="r" x="525" y="224">教牧</text>
<text class="n" x="525" y="242">樓恩德</text>
<text class="n" x="525" y="258">呂君望</text>
<text class="r" x="525" y="279">長老</text>
<text class="n" x="525" y="295">林瑞端</text>
<text class="r" x="525" y="314">部長</text>
<text class="n" x="525" y="332">顏喜賢</text>
<text class="r" x="525" y="353">副部長</text>
<text class="n" x="525" y="368">郭經國</text>
<text class="r" x="525" y="389">部員</text>
<text class="n" x="525" y="407">陳大衛</text>
<text class="n" x="525" y="423">曾妙端</text>
<text class="n" x="525" y="440">張　瑜</text>
<text class="n" x="525" y="457">鄭嘉恩</text>
<text class="n" x="525" y="473">戴家璧</text>
<text class="n" x="525" y="490">何秀明</text>
</g>

<g id="n-trust">
<text class="v" x="450" y="46" style="letter-spacing:4px">信託委員</text>
<text class="n" x="450" y="210">陳大衛</text>
<text class="n" x="450" y="227">顏喜賢</text>
<text class="n" x="450" y="243">曾妙端</text>
<text class="n" x="450" y="260">劉怡翔</text>
<text class="n" x="450" y="278">黃育義</text>
<text class="n" x="450" y="295">潘耆培</text>
<text class="n" x="450" y="312">陳偉明</text>
</g>
<g id="n-exec">
<text class="v" x="357" y="46" style="letter-spacing:4px">執委會</text>
<text class="n" x="357" y="178">樓恩德</text>
<text class="n" x="357" y="195">黃育義</text>
<text class="n" x="357" y="212">林瑞端</text>
<text class="n" x="357" y="228">陳大衛</text>
<text class="n" x="357" y="245">顏喜賢</text>
<text class="n" x="357" y="262">曾妙端</text>
<text class="n" x="357" y="278">劉怡翔</text>
<text class="n" x="357" y="295">侯傑文</text>
<text class="n" x="357" y="312">彭祖輝</text>
<text class="n" x="357" y="330">張　瑜</text>
</g>
<g id="n-office">
<text class="v" x="252" y="46" style="letter-spacing:4px">辦事處</text>
<text class="r" x="252" y="181">主任</text>
<text class="n" x="252" y="198">余志強</text>
<text class="r" x="252" y="218">總堂幹事</text>
<text class="n" x="252" y="235">劉展豪</text>
<text class="n" x="252" y="252">陳淑賢</text>
<text class="n" x="252" y="268">盧淑賢</text>
<text class="n" x="252" y="285">林雯群</text>
<text class="r" x="252" y="306">沙田支堂幹事</text>
<text class="n" x="252" y="323">李佩芬</text>
<text class="r" x="252" y="343">工友／管理員</text>
<text class="n" x="252" y="360">鄭來添</text>
<text class="n" x="252" y="377">施　拜</text>
<text class="n" x="252" y="393">黃銀盛</text>
<text class="n" x="252" y="410">馮　美</text>
<text class="n" x="252" y="427">張建靈</text>
<text class="n" x="252" y="443">黃金松</text>
</g>
<g id="n-elders">
<text class="v" x="147" y="46" style="letter-spacing:4px">長老執事</text>
<text class="r" x="147" y="211">長老</text>
<text class="n" x="147" y="228">黃育義</text>
<text class="n" x="147" y="245">林瑞端</text>
<text class="n" x="147" y="262">林惠音</text>
<text class="r" x="147" y="283">執事</text>
<text class="n" x="147" y="300">陳大衛</text>
<text class="n" x="147" y="317">陳偉明</text>
<text class="n" x="147" y="333">陳國業</text>
<text class="n" x="147" y="350">顏喜賢</text>
<text class="n" x="147" y="367">顏喜恩</text>
<text class="n" x="147" y="382">彭祖輝</text>
<text class="n" x="147" y="398">劉怡翔</text>
<text class="n" x="147" y="415">潘耆培</text>
<text class="n" x="147" y="432">侯傑文</text>
<text class="n" x="147" y="448">郭經國</text>
<text class="n" x="147" y="465">鄭嘉恩</text>
<text class="n" x="147" y="482">黃冠德</text>
<text class="n" x="147" y="498">李恩添</text>
<text class="n" x="147" y="515">曾妙端</text>
<text class="n" x="147" y="532">張　瑜</text>
<text class="n" x="147" y="548">沈詠恩</text>
<text class="n" x="147" y="565">陳麗如</text>
<text class="n" x="147" y="582">陳燕群</text>
<text class="n" x="147" y="598">林惠愛</text>
<text class="n" x="147" y="615">楊麗芳</text>
<text class="n" x="147" y="632">李王娟</text>
<text class="n" x="147" y="648">吳楚文</text>
</g>
<g id="n-pastors">
<text class="v" x="54" y="46" style="letter-spacing:4px">教牧同工</text>
<text class="r" x="54" y="213">主任牧師</text>
<text class="n" x="54" y="230">樓恩德</text>
<text class="r" x="54" y="248">總堂教牧</text>
<text class="n" x="54" y="267">呂君望</text>
<text class="n" x="54" y="283">周健輝</text>
<text class="n" x="54" y="300">李月明</text>
<text class="n" x="54" y="317">蕭寶環</text>
<text class="n" x="54" y="333">關彰義</text>
<text class="r" x="54" y="353">沙田支堂教師</text>
<text class="n" x="54" y="368">梁麗燕</text>
<text class="n" x="54" y="388">郭英琪</text>
</g>

</g>
</svg>
